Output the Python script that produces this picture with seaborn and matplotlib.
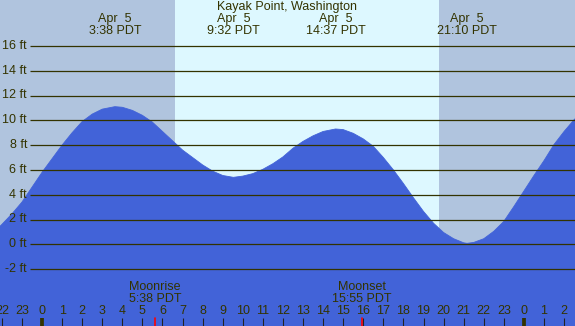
import matplotlib
matplotlib.use("Agg")
import matplotlib.pyplot as plt
import pandas as pd
import seaborn as sns

# Tide heights (ft), hours relative to midnight Apr 5
tide_hours = [-2.5, -2.0, -1.5, -1.0, -0.5, 0.0, 0.5, 1.0, 1.5, 2.0, 2.5, 3.0, 3.63, 4.0,
              4.5, 5.0, 5.5, 6.0, 6.5, 7.0, 7.5, 8.0, 8.5, 9.0, 9.53, 10.0, 10.5, 11.0,
              11.5, 12.0, 12.5, 13.0, 13.5, 14.0, 14.62, 15.0, 15.5, 16.0, 16.5, 17.0,
              17.5, 18.0, 18.5, 19.0, 19.5, 20.0, 20.5, 21.0, 21.17, 21.5, 22.0, 22.5,
              23.0, 23.5, 24.0, 24.5, 25.0, 25.5, 26.0, 26.5, 27.0]
tide_heights = [0.8, 1.6, 2.45, 3.4, 4.6, 5.8, 6.9, 8.0, 9.0, 9.9, 10.5, 10.9, 11.1, 11.05,
                10.8, 10.4, 9.85, 9.1, 8.35, 7.6, 7.0, 6.4, 5.9, 5.55, 5.4, 5.5, 5.7, 6.05,
                6.5, 7.05, 7.75, 8.3, 8.75, 9.1, 9.3, 9.25, 8.95, 8.5, 7.9, 7.0,
                6.0, 4.9, 3.75, 2.65, 1.7, 0.95, 0.45, 0.12, 0.08, 0.15, 0.45, 1.05,
                1.85, 3.05, 4.3, 5.55, 6.75, 8.05, 9.1, 10.05, 10.8]

extreme_labels = ["3:38 PDT", "9:32 PDT", "14:37 PDT", "21:10 PDT"]
extreme_hours = [3 + 38 / 60, 9 + 32 / 60, 14 + 37 / 60, 21 + 10 / 60]

sunrise = 6 + 37 / 60
sunset = 19 + 46 / 60
moon_events = ["Moonrise", "Moonset"]
moon_labels = ["5:38 PDT", "15:55 PDT"]
moon_hours = [5 + 38 / 60, 15 + 55 / 60]

hour_ticks = list(range(-2, 27))
height_ticks = list(range(-2, 17, 2))

# pixel helpers (chart is 575x326, 20.08 px per hour, 12.4 px per foot)
def px(x):
    return (x - 42) / 20.08

def py(y):
    return (244.3 - y) / 12.4

night = "#b0c4de"
day = "#ddf8ff"
water = "#4263d8"
ink = "#333300"

sns.set_theme(style="white")
plt.rcParams['font.family'] = ['Liberation Sans', 'DejaVu Sans']

fig = plt.figure(figsize=(5.75, 3.26), dpi=100)
ax = fig.add_axes([0, 0, 1, 1])
ax.axis("off")

ax.axvspan(px(-5), sunrise, color=night, lw=0, zorder=0)
ax.axvspan(sunrise, sunset, color=day, lw=0, zorder=0)
ax.axvspan(sunset, px(580), color=night, lw=0, zorder=0)

df = pd.DataFrame({"hour": tide_hours, "height": tide_heights})
ax.fill_between(df["hour"], df["height"], py(330), color=water, lw=0, zorder=1)
sns.lineplot(data=df, x="hour", y="height", ax=ax, color=water, lw=0.6,
             estimator=None, zorder=1)

# height grid lines and labels
for h in height_ticks:
    ax.plot([px(29.5), px(576)], [h, h], color=ink, lw=0.9, zorder=2,
            solid_capstyle="butt")
    ax.text(px(27), h, f"{h} ft", ha="right", va="center", fontsize=9, color=ink)

ax.text(px(287), py(7), "Kayak Point, Washington", ha="center", va="center",
        fontsize=9, color=ink)
for t, lab in zip(extreme_hours, extreme_labels):
    ax.text(t, py(19), "Apr  5", ha="center", va="center", fontsize=9, color=ink)
    ax.text(t, py(31), lab, ha="center", va="center", fontsize=9, color=ink)

for t, ev, lab in zip(moon_hours, moon_events, moon_labels):
    ax.text(t, py(287), ev, ha="center", va="center", fontsize=9, color=ink)
    ax.text(t, py(299), lab, ha="center", va="center", fontsize=9, color=ink)
    ax.plot([t, t], [py(318), py(327)], color="#ff0000", lw=1.2, zorder=3)

for h in hour_ticks:
    ax.text(h, py(311), str(h % 24), ha="center", va="center", fontsize=9, color=ink)
    midnight = h % 24 == 0
    ax.plot([h, h], [py(318), py(327)], color=ink if midnight else "#222222",
            lw=2.7 if midnight else 0.8, zorder=2, solid_capstyle="butt")

ax.set_xlim(px(0), px(575))
ax.set_ylim(py(326), py(0))
ax.set_xlabel("")
ax.set_ylabel("")

fig.savefig("out.png", dpi=100)
